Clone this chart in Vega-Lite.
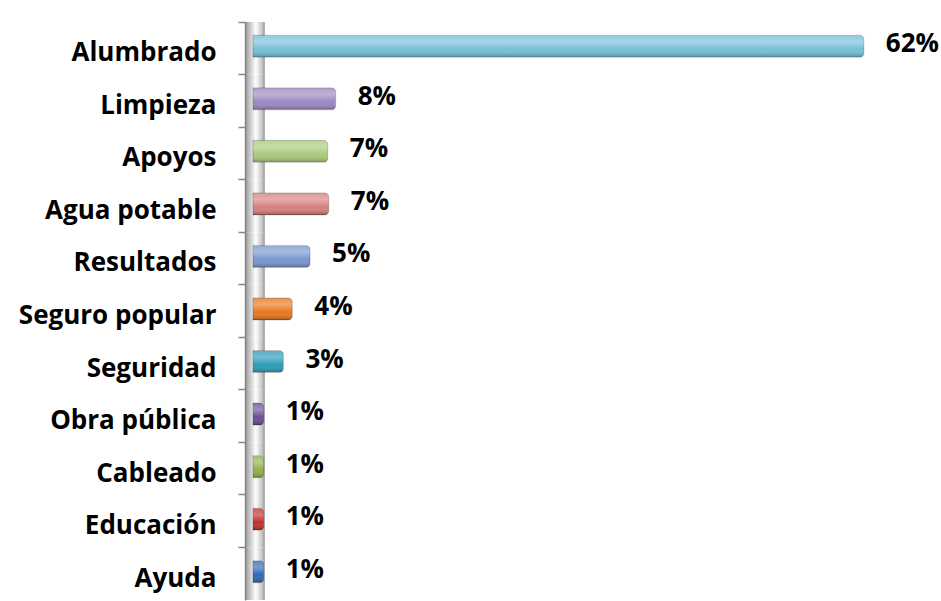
{
  "$schema": "https://vega.github.io/schema/vega-lite/v6.json",
  "width": 678,
  "height": 578,
  "autosize": {"type": "none"},
  "padding": {"left": 245, "top": 22, "right": 18, "bottom": 1},
  "background": "white",
  "config": {"view": {"stroke": null}, "font": "Open Sans"},
  "data": {
    "values": [
      {"categoria": "Alumbrado", "valor": 62, "etiqueta": "62%"},
      {"categoria": "Limpieza", "valor": 8.4, "etiqueta": "8%"},
      {"categoria": "Apoyos", "valor": 7.6, "etiqueta": "7%"},
      {"categoria": "Agua potable", "valor": 7.7, "etiqueta": "7%"},
      {"categoria": "Resultados", "valor": 5.8, "etiqueta": "5%"},
      {"categoria": "Seguro popular", "valor": 4.0, "etiqueta": "4%"},
      {"categoria": "Seguridad", "valor": 3.1, "etiqueta": "3%"},
      {"categoria": "Obra pública", "valor": 1.1, "etiqueta": "1%"},
      {"categoria": "Cableado", "valor": 1.1, "etiqueta": "1%"},
      {"categoria": "Educación", "valor": 1.1, "etiqueta": "1%"},
      {"categoria": "Ayuda", "valor": 1.1, "etiqueta": "1%"}
    ]
  },
  "encoding": {
    "y": {
      "field": "categoria", "type": "nominal", "sort": null,
      "scale": {"paddingInner": 0, "paddingOuter": 0},
      "axis": {
        "title": null,
        "bandPosition": 0,
        "labelOffset": 5,
        "labelFont": "Open Sans",
        "labelFontSize": 26,
        "labelFontWeight": "bold",
        "labelColor": "#000000",
        "labelLimit": 400,
        "labelPadding": 22,
        "tickSize": 7,
        "tickColor": "#868686",
        "tickWidth": 1.5,
        "domainColor": "#868686",
        "domainWidth": 1.5
      }
    }
  },
  "layer": [
    {
      "mark": {
        "type": "rect",
        "fill": {
          "gradient": "linear", "x1": 0, "y1": 0, "x2": 1, "y2": 0,
          "stops": [
            {"offset": 0, "color": "#8a8a8a"},
            {"offset": 0.15, "color": "#b5b5b5"},
            {"offset": 0.55, "color": "#ffffff"},
            {"offset": 0.9, "color": "#bdbdbd"},
            {"offset": 1, "color": "#8a8a8a"}
          ]
        }
      },
      "encoding": {
        "x": {"datum": -0.8, "type": "quantitative", "scale": {"domain": [-0.8, 68], "nice": false}, "axis": null},
        "x2": {"datum": 1.2}
      }
    },
    {
      "mark": {"type": "bar", "size": 22, "yOffset": -2, "cornerRadiusEnd": 4, "stroke": "rgba(0,0,0,0.18)", "strokeWidth": 1},
      "encoding": {
        "x": {
          "field": "valor", "type": "quantitative",
          "scale": {"domain": [-0.8, 68], "nice": false},
          "axis": null
        },
        "color": {
          "field": "categoria", "type": "nominal", "legend": null,
          "scale": {
            "domain": ["Alumbrado", "Limpieza", "Apoyos", "Agua potable", "Resultados", "Seguro popular", "Seguridad", "Obra pública", "Cableado", "Educación", "Ayuda"],
            "range": ["#74bfd8", "#9a87bf", "#a9c97a", "#d7807e", "#7696cd", "#e8771f", "#2c9cb8", "#6a4c98", "#8fb148", "#c42f2d", "#2f68b5"]
          }
        }
      }
    },
    {
      "mark": {
        "type": "bar", "size": 22, "yOffset": -2, "cornerRadiusEnd": 4,
        "fill": {
          "gradient": "linear", "x1": 0, "y1": 0, "x2": 0, "y2": 1,
          "stops": [
            {"offset": 0, "color": "rgba(255,255,255,0.2)"},
            {"offset": 0.3, "color": "rgba(255,255,255,0.35)"},
            {"offset": 0.65, "color": "rgba(255,255,255,0)"},
            {"offset": 1, "color": "rgba(0,0,0,0.3)"}
          ]
        }
      },
      "encoding": {
        "x": {"field": "valor", "type": "quantitative"}
      }
    },
    {
      "mark": {"type": "text", "align": "left", "baseline": "middle", "dx": 22, "yOffset": -4, "font": "Open Sans", "fontSize": 26, "fontWeight": "bold", "color": "#000000"},
      "encoding": {
        "x": {"field": "valor", "type": "quantitative"},
        "text": {"field": "etiqueta"}
      }
    }
  ]
}
